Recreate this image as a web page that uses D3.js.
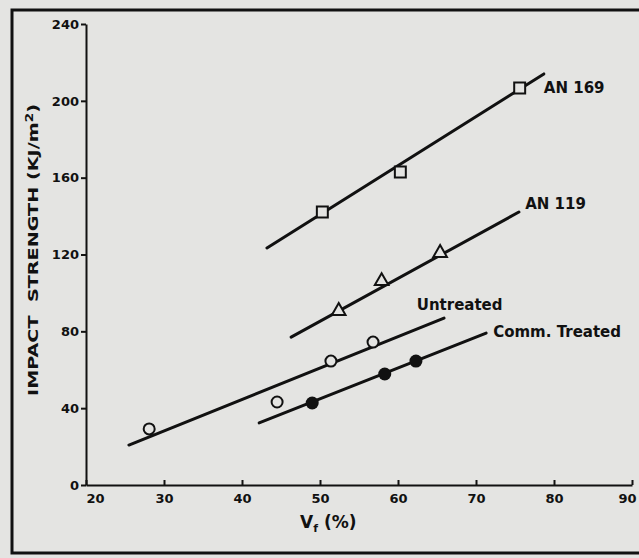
<!DOCTYPE html>
<html>
<head>
<meta charset="utf-8">
<script src="https://cdn.jsdelivr.net/npm/d3@7"></script>
<style>
  body { margin: 0; background: #e4e4e2; }
  svg { display: block; }
  text { font-family: "DejaVu Sans", sans-serif; font-weight: bold; fill: #111; }
</style>
</head>
<body>
<svg id="chart" width="639" height="558"></svg>
<script>
// axis ticks
let xTicks = [20, 30, 40, 50, 60, 70, 80, 90];
let yTicks = [0, 40, 80, 120, 160, 200, 240];

// measured points (Vf %, impact strength)
let an169 = [[50.3, 142.1], [60.3, 162.9], [75.6, 206.7]];
let an119 = [[52.4, 90.6], [57.9, 106.2], [65.4, 120.8]];
let untreated = [[28.1, 29.2], [44.5, 43.2], [51.4, 64.5], [56.8, 74.4]];
let commTreated = [[49.0, 42.7], [58.3, 57.8], [62.3, 64.5]];

// fitted lines, start and end
let an169Fit = [[43.2, 123.4], [78.7, 214.0]];
let an119Fit = [[46.3, 77.0], [75.5, 142.1]];
let untreatedFit = [[25.5, 20.8], [65.9, 86.9]];
let commTreatedFit = [[42.2, 32.3], [71.3, 79.1]];

// curve labels and where they sit
let labelNames = ['AN 169', 'AN 119', 'Untreated', 'Comm. Treated'];
let labelPos = [[78.7, 206.7], [76.3, 146.3], [62.4, 93.7], [72.2, 79.6]];

let paper = '#e4e4e2';
let svg = d3.select('#chart');

let x = d3.scaleLinear().domain([20, 90]).range([86, 632]);
let y = d3.scaleLinear().domain([0, 240]).range([485, 24]);

// outer frame (right side is cut off in the scan)
svg.append('path')
  .attr('d', 'M639,10 H12 V553 H639')
  .attr('fill', 'none')
  .attr('stroke', '#111')
  .attr('stroke-width', 3);

let yAxis = svg.append('g')
  .attr('transform', 'translate(' + x(20) + ',0)')
  .call(d3.axisLeft(y).tickValues(yTicks).tickSizeInner(5).tickSizeOuter(0).tickPadding(2));

let xAxis = svg.append('g')
  .attr('transform', 'translate(0,' + y(0) + ')')
  .call(d3.axisBottom(x).tickValues(xTicks).tickSizeInner(-5).tickSizeOuter(0).tickPadding(6));

[xAxis, yAxis].forEach(g => {
  g.select('.domain').attr('stroke', '#111').attr('stroke-width', 2);
  g.selectAll('.tick line').attr('stroke', '#111').attr('stroke-width', 2);
  g.selectAll('.tick text')
    .style('font-family', '"DejaVu Sans", sans-serif')
    .style('font-weight', 'bold')
    .style('font-size', '13px')
    .attr('fill', '#111');
});
xAxis.selectAll('.tick text').attr('dy', '0.9em');
xAxis.selectAll('.tick text').filter(d => d === 20).attr('text-anchor', 'start');
xAxis.selectAll('.tick text').filter(d => d === 90).attr('text-anchor', 'end').attr('x', 4);

// axis titles
svg.append('text')
  .attr('transform', 'translate(38,250) rotate(-90)')
  .attr('text-anchor', 'middle')
  .attr('textLength', 292)
  .attr('lengthAdjust', 'spacingAndGlyphs')
  .style('font-size', '14px')
  .html('IMPACT&#160;&#160;STRENGTH (KJ/m<tspan dy="-5" font-size="10">2</tspan><tspan dy="5">)</tspan>');

let xTitle = svg.append('text')
  .attr('x', 300)
  .attr('y', 528)
  .style('font-size', '17px');
xTitle.append('tspan').text('V');
xTitle.append('tspan').attr('dy', 4).style('font-size', '11px').text('f');
xTitle.append('tspan').attr('dy', -4).text(' (%)');

// fitted lines
let line = d3.line().x(d => x(d[0])).y(d => y(d[1]));
[an169Fit, an119Fit, untreatedFit, commTreatedFit].forEach(f => {
  svg.append('path')
    .attr('d', line(f))
    .attr('fill', 'none')
    .attr('stroke', '#111')
    .attr('stroke-width', 3)
    .attr('stroke-linecap', 'round');
});

// markers
let sym = (type, size) => d3.symbol().type(type).size(size);

svg.selectAll('.sq').data(an169).enter().append('path')
  .attr('class', 'sq')
  .attr('transform', d => 'translate(' + x(d[0]) + ',' + y(d[1]) + ')')
  .attr('d', sym(d3.symbolSquare, 120)())
  .attr('fill', paper).attr('stroke', '#111').attr('stroke-width', 2);

svg.selectAll('.tri').data(an119).enter().append('path')
  .attr('class', 'tri')
  .attr('transform', d => 'translate(' + x(d[0]) + ',' + y(d[1]) + ')')
  .attr('d', sym(d3.symbolTriangle, 80)())
  .attr('fill', paper).attr('stroke', '#111').attr('stroke-width', 2);

svg.selectAll('.oc').data(untreated).enter().append('circle')
  .attr('class', 'oc')
  .attr('cx', d => x(d[0])).attr('cy', d => y(d[1]))
  .attr('r', 5.5)
  .attr('fill', paper).attr('stroke', '#111').attr('stroke-width', 2);

svg.selectAll('.fc').data(commTreated).enter().append('circle')
  .attr('class', 'fc')
  .attr('cx', d => x(d[0])).attr('cy', d => y(d[1]))
  .attr('r', 6.5)
  .attr('fill', '#111');

// curve labels
svg.selectAll('.lab').data(labelNames).enter().append('text')
  .attr('class', 'lab')
  .attr('x', (d, i) => x(labelPos[i][0]))
  .attr('y', (d, i) => y(labelPos[i][1]))
  .attr('dy', '0.35em')
  .style('font-size', '15px')
  .text(d => d);
</script>
</body>
</html>
